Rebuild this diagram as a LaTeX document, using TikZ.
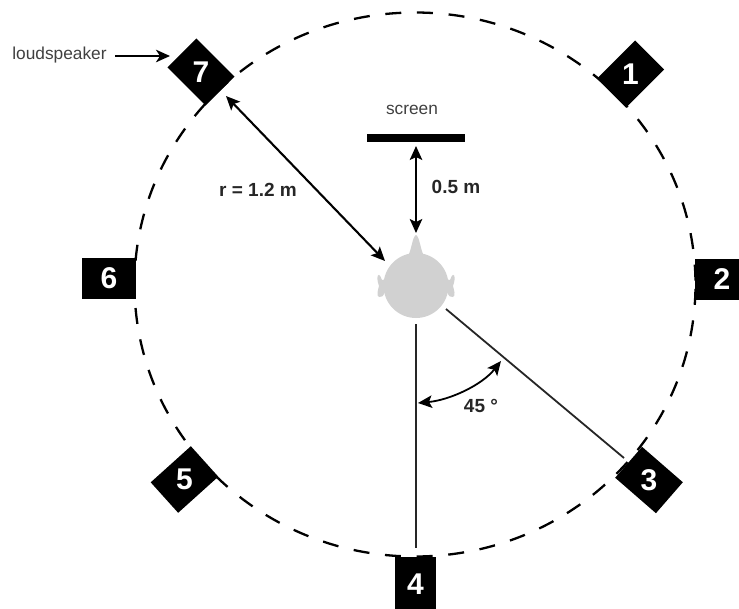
\documentclass[tikz,border=0pt]{standalone}
\usepackage{fontspec}
\setmainfont{Liberation Sans}
\usetikzlibrary{arrows.meta}
\tikzset{
  spk/.style={fill=black,draw=none,minimum width=54pt,minimum height=41pt,inner sep=0pt},
  num/.style={text=white,font=\fontsize{30}{30}\selectfont\bfseries,inner sep=0pt},
  lbl/.style={font=\fontsize{19}{21}\selectfont\bfseries,inner sep=0pt,text=black!85},
  thin lbl/.style={font=\fontsize{17.3}{19}\selectfont,inner sep=0pt,text=black!75},
  arw/.style={line width=2.1pt,{Stealth[length=14pt,width=12.5pt,inset=3pt]}-{Stealth[length=14pt,width=12.5pt,inset=3pt]}},
  arwone/.style={line width=2.1pt,-{Stealth[length=14pt,width=12.5pt,inset=4pt]}},
  rule/.style={line width=1.8pt,draw=black!85},
  ring/.style={line width=2.3pt,dash pattern=on 16pt off 15.7pt,dash phase=27.4pt},
  headfill/.style={fill=black!18,draw=none}
}
\begin{document}
\begin{tikzpicture}[x=1pt,y=-1pt]
\useasboundingbox (0,0) rectangle (739,608);
\clip (0,0) rectangle (739,608);
% ring
\draw[ring] (415,284.5) ellipse [x radius=280.5, y radius=272];
% speakers
\node[spk,rotate=45]  (b1) at (630.5,74) {};
\node[spk]            (b2) at (722,279) {};
\node[spk,rotate=-41] (b3) at (649,480) {};
\node[spk,rotate=90]  (b4) at (415.5,584) {};
\node[spk,rotate=42]  (b5) at (184.5,479.5) {};
\node[spk]            (b6) at (109,278.5) {};
\node[spk,rotate=-45] (b7) at (201,72) {};
\node[num] (n1) at (b1.center) {1};
\node[num] (n2) at (b2.center) {2};
\node[num] (n3) at (b3.center) {3};
\node[num] (n4) at (b4.center) {4};
\node[num] (n5) at (b5.center) {5};
\node[num] (n6) at (b6.center) {6};
\node[num] (n7) at (b7.center) {7};
% head
\path[headfill] (416,235) .. controls (420,237) and (420,250) .. (425,258) -- (407,258) .. controls (412,250) and (412,237) .. (416,235) -- cycle;
\path[headfill] (390,278) -- (382,280) .. controls (380,274) and (377,272) .. (377.5,280) .. controls (378,284) and (379,285) .. (379,286) .. controls (378,290) and (376,296) .. (379,297) .. controls (382,298) and (383,296) .. (385,292) -- (390,292) -- cycle;
\path[headfill] (442,278) -- (450,280) .. controls (452,274) and (455,272) .. (454.5,280) .. controls (454,284) and (453,285) .. (453,286) .. controls (454,290) and (456,296) .. (453,297) .. controls (450,298) and (449,296) .. (447,292) -- (442,292) -- cycle;
\node[headfill,circle,minimum size=65pt,inner sep=0pt] (head) at (416,285.5) {};
% screen
\node[fill=black,minimum width=98pt,minimum height=8pt,inner sep=0pt] (scr) at (416,138) {};
\node[thin lbl] (scrlbl) at (412,110) {screen};
% labels
\node[thin lbl] (lsp) at (59.5,55) {loudspeaker};
\node[lbl] (half) at (456,187) {0.5 m};
\node[lbl] (rad) at (258,190) {r = 1.2 m};
\node[lbl] (deg) at (481,406) {45 °};
% connectors
\coordinate (lspS) at (115,56);
\coordinate (lspE) at (170,56);
\draw[arwone] (lspS) -- (lspE);
\coordinate (rS) at (226,96);
\coordinate (rE) at (385,261);
\draw[arw] (rS) -- (rE);
\coordinate (hS) at (416,146);
\coordinate (hE) at (416,233);
\draw[arw] (hS) -- (hE);
\coordinate (v1) at (416,324);
\coordinate (v2) at (416,548);
\draw[rule] (v1) -- (v2);
\coordinate (d1) at (446,309);
\coordinate (d2) at (624,458);
\draw[rule] (d1) -- (d2);
\coordinate (a1) at (418,403);
\coordinate (a2) at (501,361);
\draw[arw,line width=1.8pt] (a1) .. controls (450,400) and (482,385) .. (a2);
\end{tikzpicture}
\end{document}
